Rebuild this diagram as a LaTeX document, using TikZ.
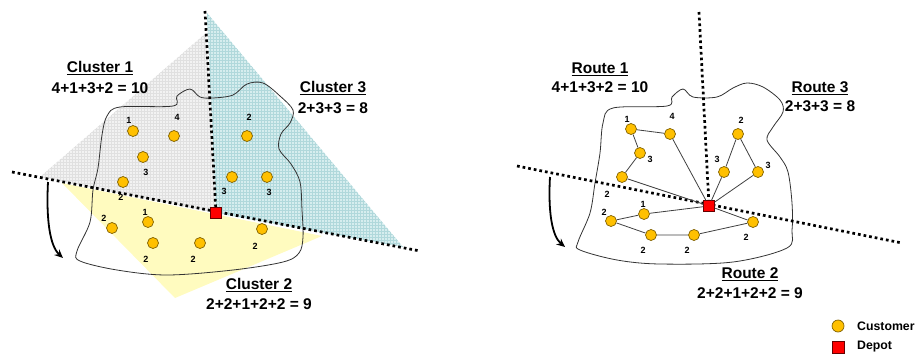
\documentclass[tikz,border=0pt]{standalone}
\usepackage{fontspec}
\setmainfont{Liberation Sans}
\usetikzlibrary{arrows.meta}
\definecolor{custfill}{HTML}{FFC000}
\definecolor{custline}{HTML}{7F6000}
\definecolor{grayfill}{HTML}{F2F2F2}
\definecolor{graygrid}{HTML}{E0E0E0}
\definecolor{tealfill}{HTML}{D6EDEE}
\definecolor{tealgrid}{HTML}{B0D8DB}
\definecolor{yelfill}{HTML}{FFFBBF}
\tikzset{
 cust/.style={circle, fill=custfill, draw=custline, line width=0.7pt, minimum size=11pt, inner sep=0pt},
 depot/.style={rectangle, fill=red, draw=black!60!red, line width=0.7pt, minimum size=10.5pt, inner sep=0pt},
 dem/.style={font=\fontsize{9}{9}\selectfont\bfseries, inner sep=0pt},
 ttl/.style={font=\fontsize{15.5}{17}\selectfont\bfseries, inner sep=0pt},
 dotline/.style={line width=2.7pt, dash pattern=on 2.7pt off 3pt},
 blob/.style={draw=black!80, line width=0.8pt},
 route/.style={draw=black!75, line width=0.8pt},
 turn/.style={line width=1.8pt, -{Stealth[length=8.5pt,width=7.5pt]}},
 legend/.style={font=\fontsize{12.3}{12}\selectfont\bfseries, anchor=west, inner sep=0pt}
}
\begin{document}
\begin{tikzpicture}[x=1pt,y=-1pt]
\useasboundingbox (0,0) rectangle (917,356);
% ---------- LEFT PANEL ----------
\coordinate (depL) at (216,213);
\coordinate (vtopL) at (205,11);
\coordinate (hleftL) at (12,172);
\coordinate (hrightL) at (420,251);
% shaded regions
\begin{scope}
\clip (206,33) -- (40,177) -- (depL) -- cycle;
\fill[grayfill] (0,0) rectangle (460,356);
\draw[graygrid, line width=0.35pt, step=3pt] (0,0) grid (460,356);
\end{scope}
\begin{scope}
\clip (207,13) -- (403,247) -- (depL) -- cycle;
\fill[tealfill] (0,0) rectangle (460,356);
\draw[tealgrid, line width=0.35pt, step=3pt] (0,0) grid (460,356);
\end{scope}
\fill[yelfill] (62,183) -- (322,236) -- (175,298) -- cycle;
% blob
\draw[blob] plot[smooth cycle, tension=0.55] coordinates {
 (120,107) (173,106) (177,96) (190,89) (200,97) (213,98) (233,95) (247,84) (263,83)
 (280,96) (293,110) (290,123) (281,134) (279,149) (291,164) (300,182) (302,210)
 (303,237) (299,253) (283,262) (233,270) (167,275) (117,270) (80,261) (77,251)
 (90,222) (93,190) (98,168) (102,135) (107,116)};
% dotted lines
\draw[dotline] (vtopL) -- (depL);
\draw[dotline] (hleftL) -- (hrightL);
% turning arrow
\coordinate (arLs) at (48,182);
\coordinate (arLe) at (63,258);
\draw[turn] (arLs) .. controls (46,220) and (50,246) .. (arLe);
% depot and customers
\node[depot] (dL) at (depL) {};
\node[cust] (L1) at (133,131) {};  \node[dem] (tL1) at (129,120) {1};
\node[cust] (L4) at (174,136) {};  \node[dem] (tL4) at (177,117) {4};
\node[cust] (L3) at (143,157) {};  \node[dem] (tL3) at (146,172) {3};
\node[cust] (L2a) at (123,182) {}; \node[dem] (tL2a) at (121,197) {2};
\node[cust] (L2b) at (247,136) {}; \node[dem] (tL2b) at (249,117) {2};
\node[cust] (L3a) at (232,177) {}; \node[dem] (tL3a) at (224,191) {3};
\node[cust] (L3b) at (267,177) {}; \node[dem] (tL3b) at (269,192) {3};
\node[cust] (L1b) at (148,222) {}; \node[dem] (tL1b) at (145,212) {1};
\node[cust] (L2c) at (112,228) {}; \node[dem] (tL2c) at (104,218) {2};
\node[cust] (L2d) at (153,243) {}; \node[dem] (tL2d) at (146,259) {2};
\node[cust] (L2e) at (200,243) {}; \node[dem] (tL2e) at (193,259) {2};
\node[cust] (L2f) at (262,229) {}; \node[dem] (tL2f) at (255,246) {2};
% titles
\node[ttl] (c1t) at (100,68) {\underline{Cluster 1}};
\node[ttl] (c1s) at (100,88) {4+1+3+2 = 10};
\node[ttl] (c3t) at (333,88) {\underline{Cluster 3}};
\node[ttl] (c3s) at (333,108) {2+3+3 = 8};
\node[ttl] (c2t) at (259,285) {\underline{Cluster 2}};
\node[ttl] (c2s) at (259,304) {2+2+1+2+2 = 9};
% ---------- RIGHT PANEL ----------
\coordinate (depR) at (709,206);
\coordinate (vtopR) at (699,12);
\coordinate (hleftR) at (517,166);
\coordinate (hrightR) at (902,243);
\draw[blob] plot[smooth cycle, tension=0.55] coordinates {
 (613,108) (667,106) (672,97) (683,89) (693,97) (717,97) (733,88) (747,83) (763,87)
 (780,100) (783,112) (773,127) (767,140) (780,157) (788,172) (792,203) (792,230)
 (787,248) (733,262) (660,264) (617,260) (580,250) (578,242) (590,213) (595,183)
 (600,153) (603,123)};
\draw[dotline] (vtopR) -- (depR);
\draw[dotline] (hleftR) -- (hrightR);
\coordinate (arRs) at (550,177);
\coordinate (arRe) at (565,247);
\draw[turn] (arRs) .. controls (548,212) and (552,236) .. (arRe);
\node[depot] (dR) at (depR) {};
\node[cust] (R1) at (631,129) {};  \node[dem] (tR1) at (627,119) {1};
\node[cust] (R4) at (670,134) {};  \node[dem] (tR4) at (672,116) {4};
\node[cust] (R3) at (640,153) {};  \node[dem] (tR3) at (650,159) {3};
\node[cust] (R2a) at (622,177) {}; \node[dem] (tR2a) at (607,194) {2};
\node[cust] (R2b) at (738,134) {}; \node[dem] (tR2b) at (741,120) {2};
\node[cust] (R3a) at (724,172) {}; \node[dem] (tR3a) at (717,159) {3};
\node[cust] (R3b) at (758,172) {}; \node[dem] (tR3b) at (768,165) {3};
\node[cust] (R1b) at (644,214) {}; \node[dem] (tR1b) at (643,204) {1};
\node[cust] (R2c) at (611,221) {}; \node[dem] (tR2c) at (604,212) {2};
\node[cust] (R2d) at (651,235) {}; \node[dem] (tR2d) at (643,250) {2};
\node[cust] (R2e) at (694,235) {}; \node[dem] (tR2e) at (687,250) {2};
\node[cust] (R2f) at (753,222) {}; \node[dem] (tR2f) at (746,237) {2};
% routes
\draw[route] (dR) -- (R2a) -- (R3) -- (R1) -- (R4) -- (dR);
\draw[route] (dR) -- (R3a) -- (R2b) -- (R3b) -- (dR);
\draw[route] (dR) -- (R1b) -- (R2c) -- (R2d) -- (R2e) -- (R2f) -- (dR);
% titles
\node[ttl] (r1t) at (600,69) {\underline{Route 1}};
\node[ttl] (r1s) at (600,87) {4+1+3+2 = 10};
\node[ttl] (r3t) at (820,88) {\underline{Route 3}};
\node[ttl] (r3s) at (820,106) {2+3+3 = 8};
\node[ttl] (r2t) at (750,274) {\underline{Route 2}};
\node[ttl] (r2s) at (750,293) {2+2+1+2+2 = 9};
% legend
\node[cust, minimum size=12pt] (lgC) at (838,326) {};
\node[legend] (lgCt) at (857,326) {Customer};
\node[depot, minimum size=12pt] (lgD) at (838,347) {};
\node[legend] (lgDt) at (857,347) {Depot};
\end{tikzpicture}
\end{document}
